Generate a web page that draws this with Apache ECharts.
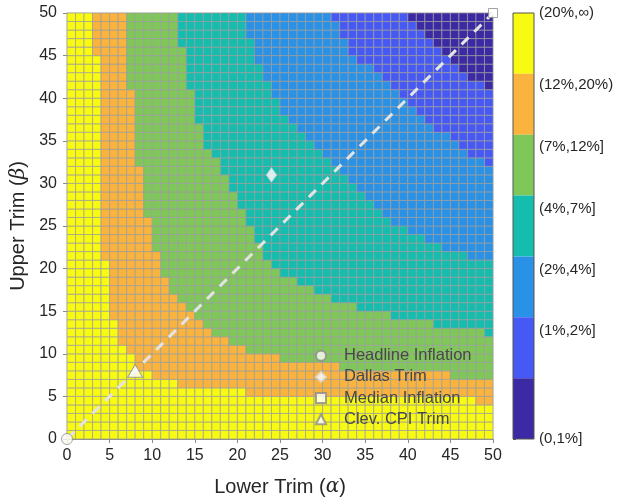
<!DOCTYPE html>
<html>
<head>
<meta charset="utf-8">
<script src="https://cdn.jsdelivr.net/npm/echarts@6/dist/echarts.min.js"></script>
<style>
  html, body { margin: 0; padding: 0; background: #fff; }
  #chart { width: 620px; height: 498px; }
</style>
</head>
<body>
<div id="chart"></div>
<script>
// colour bands, top of the colour bar first (category 0 = yellow)
const bandLabels = ['(20%,∞)', '(12%,20%)', '(7%,12%]', '(4%,7%]', '(2%,4%]', '(1%,2%]', '(0,1%]'];
const bandColors = ['#f8fa12', '#fab33d', '#7fc759', '#15bdaf', '#2a92e6', '#4759f4', '#3c2aa5'];
const bandTickPos = [7, 5.82, 4.8, 3.78, 2.78, 1.77, 0];

// for each upper trim row (beta = 0..49): lower trim where the next band starts
const yellowEnd = [50, 50, 50, 50, 48, 21, 13, 10, 8, 8,
                   7, 6, 6, 6, 5, 5, 5, 5, 5, 5,
                   5, 4, 4, 4, 4, 4, 4, 4, 4, 4,
                   4, 4, 4, 4, 4, 4, 4, 4, 4, 4,
                   4, 4, 4, 4, 4, 3, 3, 3, 3, 3];
const orangeEnd = [50, 50, 50, 50, 50, 50, 50, 45, 32, 25,
                   21, 19, 17, 16, 15, 14, 13, 12, 12, 11,
                   11, 11, 10, 10, 10, 10, 9, 9, 9, 9,
                   9, 9, 8, 8, 8, 8, 8, 8, 8, 8,
                   8, 7, 7, 7, 7, 7, 7, 7, 7, 7];
const greenEnd = [50, 50, 50, 50, 50, 50, 50, 50, 50, 50,
                  50, 50, 49, 43, 38, 34, 31, 29, 27, 25,
                  24, 23, 23, 22, 22, 21, 21, 20, 20, 19,
                  19, 18, 18, 17, 16, 16, 16, 15, 15, 15,
                  15, 14, 14, 14, 14, 14, 13, 13, 13, 13];
const tealEnd = [50, 50, 50, 50, 50, 50, 50, 50, 50, 50,
                 50, 50, 50, 50, 50, 50, 50, 50, 50, 50,
                 50, 47, 44, 42, 40, 38, 37, 36, 35, 34,
                 33, 32, 31, 30, 29, 28, 27, 26, 25, 25,
                 24, 24, 23, 23, 22, 22, 22, 21, 21, 21];
const blueEnd = [50, 50, 50, 50, 50, 50, 50, 50, 50, 50,
                 50, 50, 50, 50, 50, 50, 50, 50, 50, 50,
                 50, 50, 50, 50, 50, 50, 50, 50, 50, 50,
                 50, 50, 49, 47, 46, 45, 43, 42, 41, 40,
                 39, 38, 37, 36, 34, 33, 33, 32, 32, 31];
const indigoEnd = [50, 50, 50, 50, 50, 50, 50, 50, 50, 50,
                   50, 50, 50, 50, 50, 50, 50, 50, 50, 50,
                   50, 50, 50, 50, 50, 50, 50, 50, 50, 50,
                   50, 50, 50, 50, 50, 50, 50, 50, 50, 50,
                   50, 49, 47, 46, 45, 44, 43, 42, 41, 40];

// marked trims
const headlinePt = [[0, 0]];
const dallasPt = [[24, 31]];
const medianPt = [[50, 50]];
const clevPt = [[8, 8]];
const diagLine = [[0, 0], [50, 50]];

// build the cells [alpha, beta, band]
const ends = [yellowEnd, orangeEnd, greenEnd, tealEnd, blueEnd, indigoEnd];
const cells = [];
for (let b = 0; b < 50; b++) {
    for (let a = 0; a < 50; a++) {
        let band = 0;
        ends.forEach(e => { if (a >= e[b]) band++; });
        cells.push([a, b, band]);
    }
}
const barData = bandColors.map((c, i) => [0, 6 - i, i]);

const font = 'Liberation Sans, Arial, Helvetica, sans-serif';
const textCol = '#262626';

function renderCell(params, api) {
    const a = api.value(0), b = api.value(1);
    const p0 = api.coord([a, b]);
    const p1 = api.coord([a + 1, b + 1]);
    return {
        type: 'rect',
        shape: { x: p0[0], y: p1[1], width: p1[0] - p0[0], height: p0[1] - p1[1] },
        style: { fill: bandColors[api.value(2)], stroke: '#9c9c9c', lineWidth: 0.7 }
    };
}

function renderBand(params, api) {
    const k = api.value(1);
    const p0 = api.coord([0, k]);
    const p1 = api.coord([1, k + 1]);
    return {
        type: 'rect',
        shape: { x: p0[0], y: p1[1], width: p1[0] - p0[0], height: p0[1] - p1[1] },
        style: { fill: bandColors[api.value(2)] }
    };
}

const chart = echarts.init(document.getElementById('chart'));
chart.setOption({
    animation: false,
    textStyle: { fontFamily: font },
    grid: [
        { left: 67, top: 13, width: 426, height: 426, outerBoundsMode: 'none', containLabel: false,
          show: true, borderColor: '#cfcfcf', borderWidth: 1 },
        { left: 513, top: 13, width: 21, height: 426, outerBoundsMode: 'none', containLabel: false,
          show: true, borderColor: '#555', borderWidth: 1, z: 10 }
    ],
    xAxis: [
        {
            type: 'value', gridIndex: 0, min: 0, max: 50, interval: 5,
            name: 'Lower Trim ({g|α})', nameLocation: 'middle', nameGap: 38,
            nameTextStyle: {
                fontSize: 20, color: textCol, fontFamily: font,
                rich: { g: { fontSize: 20, fontStyle: 'italic', color: textCol, fontFamily: 'DejaVu Serif' } }
            },
            axisLine: { show: true, onZero: false, lineStyle: { color: '#8a8a8a', width: 1 } },
            axisTick: { show: true, length: 4, lineStyle: { color: '#8a8a8a' } },
            axisLabel: { fontSize: 16, color: textCol, margin: 9 },
            splitLine: { show: false }
        },
        { type: 'value', gridIndex: 1, min: 0, max: 1, show: false }
    ],
    yAxis: [
        {
            type: 'value', gridIndex: 0, min: 0, max: 50, interval: 5,
            name: 'Upper Trim ({g|β})', nameLocation: 'middle', nameGap: 38,
            nameTextStyle: {
                fontSize: 20, color: textCol, fontFamily: font,
                rich: { g: { fontSize: 20, fontStyle: 'italic', color: textCol, fontFamily: 'DejaVu Serif' } }
            },
            axisLine: { show: true, onZero: false, lineStyle: { color: '#8a8a8a', width: 1 } },
            axisTick: { show: true, length: 4, lineStyle: { color: '#8a8a8a' } },
            axisLabel: { fontSize: 16, color: textCol, margin: 10 },
            splitLine: { show: false }
        },
        {
            type: 'value', gridIndex: 1, min: 0, max: 7, position: 'right',
            axisLine: { show: false },
            axisTick: { show: true, length: 3, customValues: bandTickPos, lineStyle: { color: '#555' } },
            axisLabel: {
                fontSize: 15, color: textCol, margin: 5, customValues: bandTickPos,
                formatter: v => {
                    let best = 0;
                    bandTickPos.forEach((p, i) => { if (Math.abs(p - v) < Math.abs(bandTickPos[best] - v)) best = i; });
                    return bandLabels[best];
                }
            },
            splitLine: { show: false }
        }
    ],
    legend: {
        orient: 'vertical', left: 310, top: 341,
        itemWidth: 10, itemHeight: 10, itemGap: 1.8,
        textStyle: { fontSize: 16.5, color: '#484848', padding: [0, 0, 0, 13], lineHeight: 19.4 },
        data: ['Headline Inflation', 'Dallas Trim', 'Median Inflation', 'Clev. CPI Trim']
    },
    series: [
        {
            type: 'custom', xAxisIndex: 0, yAxisIndex: 0, renderItem: renderCell,
            encode: { x: 0, y: 1 }, data: cells, silent: true, z: 1
        },
        {
            type: 'custom', xAxisIndex: 1, yAxisIndex: 1, renderItem: renderBand,
            encode: { x: 0, y: 1 }, data: barData, silent: true, z: 1
        },
        {
            type: 'line', data: diagLine, symbol: 'none', silent: true, z: 3,
            lineStyle: { color: '#e4e4e4', width: 3, type: [10, 8] }
        },
        {
            name: 'Headline Inflation', type: 'scatter', data: headlinePt, clip: false, z: 5,
            symbol: 'circle', symbolSize: 11,
            itemStyle: { color: '#fdfdf2', borderColor: '#8c8c8c', borderWidth: 1 }
        },
        {
            name: 'Dallas Trim', type: 'scatter', data: dallasPt, clip: false, z: 5,
            symbol: 'diamond', symbolSize: [10, 14],
            itemStyle: { color: '#ffffff', borderColor: '#d8d8d8', borderWidth: 1 }
        },
        {
            name: 'Median Inflation', type: 'scatter', data: medianPt, clip: false, z: 5,
            symbol: 'rect', symbolSize: 9,
            itemStyle: { color: '#ffffff', borderColor: '#8c8c8c', borderWidth: 1 }
        },
        {
            name: 'Clev. CPI Trim', type: 'scatter', data: clevPt, clip: false, z: 5,
            symbol: 'triangle', symbolSize: [15, 13],
            itemStyle: { color: '#ffffff', borderColor: '#8c8c8c', borderWidth: 1 }
        }
    ]
});
</script>
</body>
</html>
